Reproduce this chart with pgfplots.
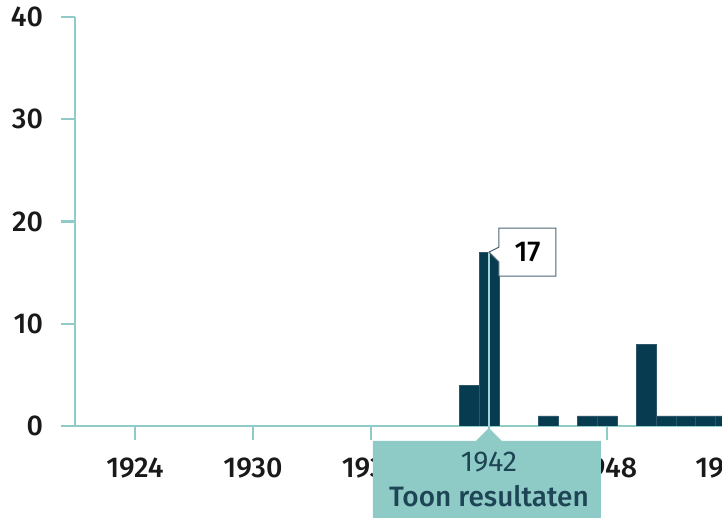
\documentclass[border=0pt]{standalone}
\usepackage{pgfplots}
\pgfplotsset{compat=1.18}
\usepackage{fontspec}
\setmainfont{Fira Sans Medium}
\newfontfamily\regf{Fira Sans}
\definecolor{barc}{HTML}{073B50}
\definecolor{axc}{HTML}{8FCBC7}
\definecolor{tipfill}{HTML}{8ECBC6}
\definecolor{tiptext}{HTML}{1D4555}
\definecolor{boxline}{HTML}{4A6575}
\begin{document}
\begin{tikzpicture}
\path[use as bounding box] (-56.25pt,-69pt) rectangle (485.25pt,319.5pt);
\begin{axis}[
  at={(0pt,0pt)}, anchor=south west,
  scale only axis, width=502.24pt, height=306.75pt,
  xmin=1920.95, xmax=1955, ymin=0, ymax=40,
  axis x line*=bottom, axis y line*=left,
  axis line style={axc, line width=1.9pt, -},
  xtick={1924,1930,1936,1942,1948,1954},
  xticklabels={1924,1930,1936,1942,1948,1954},
  ytick={0,10,20,30,40},
  yticklabels={0,10,20,30,40},
  tick style={axc, line width=1.6pt},
  tick align=outside, major tick length=10.5pt,
  ticklabel style={font=\fontsize{21.5}{24}\selectfont, text=black!90},
  yticklabel style={xshift=-10pt},
  xticklabel style={yshift=-10pt},
]
\addplot[ybar, bar width=1, fill=barc, draw=barc!85!white, line width=0.25pt] coordinates {(1941,4)(1942,17)(1945,1)(1947,1)(1948,1)(1950,8)(1951,1)(1952,1)(1953,1)(1954,1)};
\addplot[axc!80, line width=0.8pt] coordinates {(1942,0)(1942,17)};
\coordinate (top) at (axis cs:1942,17);
\coordinate (bot) at (axis cs:1942,0);
\end{axis}
% tooltip
\fill[tipfill] ([yshift=-1.5pt]bot) -- ++(9.75pt,-9.75pt) -- ++(74.25pt,0) -- ++(0,-80pt) -- ++(-171pt,0) -- ++(0,80pt) -- ++(77.25pt,0) -- cycle;
\node[text=tiptext, font=\regf\fontsize{21.5}{24}\selectfont] at ([yshift=-27pt]bot) {1942};
\node[text=tiptext, font=\fontsize{21}{24}\selectfont] at ([yshift=-52.5pt]bot) {Toon resultaten};
% value label
\draw[boxline, fill=white, line width=0.75pt] (top) -- ++(7.5pt,-7.5pt) -- ++(0,-10.5pt) -- ++(42.75pt,0) -- ++(0,36pt) -- ++(-42.75pt,0) -- ++(0,-14.25pt) -- cycle;
\node[text=black, font=\fontsize{21.5}{24}\selectfont] at ([xshift=28.9pt]top) {17};
\end{tikzpicture}
\end{document}
